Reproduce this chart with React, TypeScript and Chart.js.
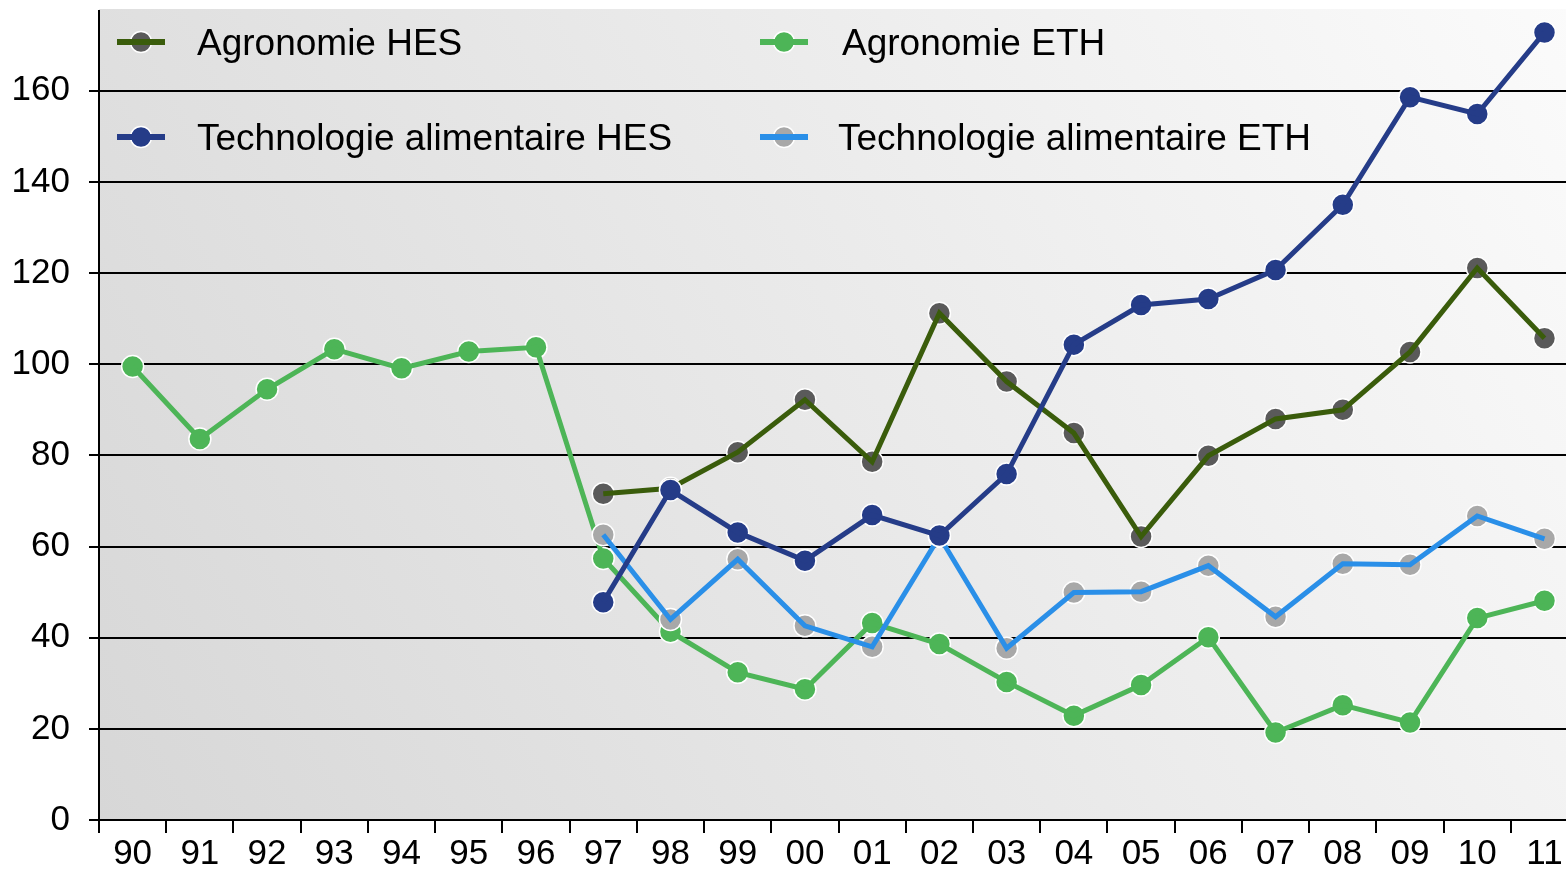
import React, { useEffect, useRef } from "react";
import { Chart, registerables } from "chart.js";

Chart.register(...registerables);

const years = ["90", "91", "92", "93", "94", "95", "96", "97", "98", "99", "00", "01", "02", "03", "04", "05", "06", "07", "08", "09", "10", "11"];

const agronomieHES = [null, null, null, null, null, null, null, 71.6, 72.8, 80.7, 92.2, 78.6, 111.2, 96.2, 84.9, 62.2, 79.9, 88.0, 90.0, 102.7, 121.1, 105.7];
const agronomieETH = [99.5, 83.6, 94.5, 103.3, 99.1, 102.8, 103.7, 57.4, 41.3, 32.4, 28.7, 43.2, 38.6, 30.3, 22.9, 29.6, 40.1, 19.2, 25.2, 21.4, 44.3, 48.1];
const technoHES = [null, null, null, null, null, null, null, 47.8, 72.4, 63.1, 56.9, 66.9, 62.4, 75.9, 104.3, 113.0, 114.3, 120.7, 135.0, 158.6, 154.9, 172.8];
const technoETH = [null, null, null, null, null, null, null, 62.6, 44.0, 57.2, 42.6, 38.0, 62.2, 37.7, 49.9, 50.1, 55.8, 44.6, 56.2, 56.0, 66.7, 61.7];

const yTicks = [0, 20, 40, 60, 80, 100, 120, 140, 160];

const FONT = '"Liberation Sans", Arial, Helvetica, sans-serif';

const series = [
  { label: "Agronomie HES", data: agronomieHES, line: "#3a5c0b", point: "#5a5a5a" },
  { label: "Agronomie ETH", data: agronomieETH, line: "#4db557", point: "#4db557" },
  { label: "Technologie alimentaire HES", data: technoHES, line: "#253c88", point: "#253c88" },
  { label: "Technologie alimentaire ETH", data: technoETH, line: "#2a8fe8", point: "#a8a8a8" },
];

// legend layout: [seriesIndex, markerCenterX, baselineY, textX]
const legendLayout = [
  [0, 141, 55, 197],
  [1, 784, 55, 842],
  [2, 141, 150, 197],
  [3, 784, 150, 838],
];

const W = 1566;
const H = 871;
// the plot runs slightly past the right edge of the picture (last category is cut off)
const X_MIN = -0.5;
const X_MAX = 21.32;

const bgPlugin = {
  id: "bgGradient",
  beforeDraw(chart: any) {
    const { ctx, chartArea } = chart;
    const { left, top, right, bottom } = chartArea;
    const g = ctx.createLinearGradient(left, bottom, right + 12, top);
    g.addColorStop(0, "#d7d7d7");
    g.addColorStop(1, "#fbfbfb");
    ctx.save();
    ctx.fillStyle = g;
    ctx.fillRect(left, top - 2, right - left, bottom - top + 2);
    ctx.restore();
  },
};

const legendPlugin = {
  id: "customLegend",
  afterDraw(chart: any) {
    const ctx = chart.ctx;
    ctx.save();
    for (const [si, cx, by, tx] of legendLayout) {
      const s = series[si];
      const my = by - 13;
      ctx.beginPath();
      ctx.arc(cx, my, 10.5, 0, Math.PI * 2);
      ctx.fillStyle = s.point;
      ctx.fill();
      ctx.lineWidth = 1.5;
      ctx.strokeStyle = "#ffffff";
      ctx.stroke();
      ctx.strokeStyle = s.line;
      ctx.lineWidth = 6;
      ctx.beginPath();
      ctx.moveTo(cx - 24, my);
      ctx.lineTo(cx + 24, my);
      ctx.stroke();
      ctx.fillStyle = "#000000";
      ctx.font = `37px ${FONT}`;
      ctx.textBaseline = "alphabetic";
      ctx.textAlign = "left";
      ctx.fillText(s.label, tx, by);
    }
    ctx.restore();
  },
};

export default function App() {
  const ref = useRef<HTMLCanvasElement | null>(null);

  useEffect(() => {
    if (!ref.current) return;
    const toXY = (arr: (number | null)[]) => arr.map((v, i) => ({ x: i, y: v }));
    const lineDs = (s: any) => ({
      label: s.label,
      data: toXY(s.data),
      borderColor: s.line,
      backgroundColor: s.line,
      borderWidth: 5,
      pointRadius: 0,
      pointHoverRadius: 0,
      tension: 0,
      fill: false,
      spanGaps: false,
    });
    const pointDs = (s: any) => ({
      label: s.label + " points",
      data: toXY(s.data),
      showLine: false,
      borderColor: "#ffffff",
      backgroundColor: s.point,
      pointBackgroundColor: s.point,
      pointBorderColor: "#ffffff",
      pointBorderWidth: 1.5,
      pointRadius: 11,
      fill: false,
    });
    // first drawn on top
    const datasets = [
      lineDs(series[2]),
      pointDs(series[2]),
      lineDs(series[3]),
      pointDs(series[3]),
      lineDs(series[0]),
      pointDs(series[0]),
      lineDs(series[1]),
      pointDs(series[1]),
    ];

    const chart = new Chart(ref.current, {
      type: "line",
      data: { datasets },
      plugins: [bgPlugin, legendPlugin],
      options: {
        animation: false,
        responsive: false,
        maintainAspectRatio: false,
        devicePixelRatio: 1,
        layout: { autoPadding: false, padding: { top: 11, left: 0, right: 0, bottom: 0 } },
        plugins: {
          legend: { display: false },
          tooltip: { enabled: false },
        },
        scales: {
          x: {
            type: "linear",
            min: X_MIN,
            max: X_MAX,
            afterBuildTicks: (scale: any) => {
              scale.ticks = years.map((_, i) => ({ value: i }));
            },
            grid: {
              offset: true,
              drawOnChartArea: false,
              drawTicks: true,
              tickLength: 13,
              color: "#000000",
              lineWidth: 2,
            },
            border: { display: true, color: "#000000", width: 2 },
            ticks: {
              color: "#000000",
              font: { family: FONT, size: 35 },
              padding: 0,
              maxRotation: 0,
              minRotation: 0,
              autoSkip: false,
              callback: (v: any) => years[Math.round(Number(v))] ?? "",
            },
            afterFit: (scale: any) => {
              scale.height = 51;
              scale.paddingLeft = 0;
              scale.paddingRight = 0;
            },
          },
          y: {
            type: "linear",
            min: 0,
            max: 177.5,
            afterBuildTicks: (scale: any) => {
              scale.ticks = yTicks.map((v) => ({ value: v }));
            },
            grid: {
              color: "#000000",
              lineWidth: 2,
              drawTicks: true,
              tickLength: 10,
            },
            border: { display: true, color: "#000000", width: 2 },
            ticks: {
              color: "#000000",
              font: { family: FONT, size: 35 },
              padding: 19,
              includeBounds: false,
            },
            afterFit: (scale: any) => {
              scale.width = 99;
              scale.paddingTop = 0;
              scale.paddingBottom = 0;
            },
          },
        },
      },
    });
    return () => chart.destroy();
  }, []);

  return (
    <div style={{ position: "fixed", left: 0, top: 0, width: W + "px", height: H + "px", background: "#ffffff", overflow: "hidden" }}>
      <canvas ref={ref} width={W} height={H} style={{ display: "block", width: W + "px", height: H + "px" }} />
    </div>
  );
}
